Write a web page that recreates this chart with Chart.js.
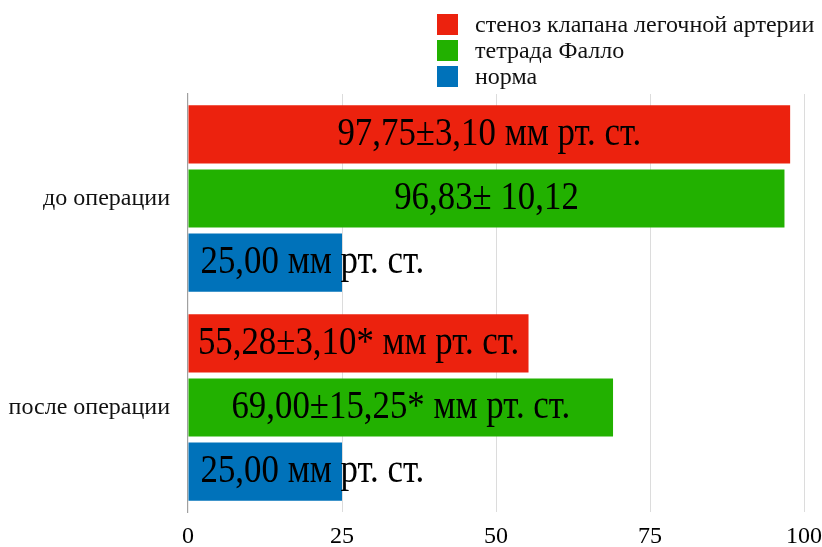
<!DOCTYPE html>
<html>
<head>
<meta charset="utf-8">
<script src="https://cdn.jsdelivr.net/npm/chart.js@4/dist/chart.umd.min.js"></script>
<style>
    html, body { margin: 0; padding: 0; background: #fff; overflow: hidden; }
    #page { width: 822px; height: 547px; overflow: hidden; position: relative; }
    #chartBox { position: absolute; left: 0; top: 0; width: 822px; height: 551px; }
    #legend { position: absolute; left: 437px; top: 11px; font-family: "Liberation Serif", serif;
              font-size: 24px; color: #111; }
    .legend-item { display: flex; align-items: center; height: 26px; }
    .legend-box { width: 21px; height: 21px; margin-right: 17px; }
</style>
</head>
<body>
<div id="page">
    <div id="chartBox"><canvas id="barChart"></canvas></div>
    <div id="legend"></div>
</div>
<script>
// -------------------- Data --------------------
const categories = ["до операции", "после операции"];
const seriesNames = ["стеноз клапана легочной артерии", "тетрада Фалло", "норма"];
const stenosisValues = [97.75, 55.28];
const tetradValues = [96.83, 69.00];
const normValues = [25.00, 25.00];
const stenosisLabels = ["97,75±3,10 мм рт. ст.", "55,28±3,10* мм рт. ст."];
const tetradLabels = ["96,83± 10,12", "69,00±15,25* мм рт. ст."];
const normLabels = ["25,00 мм рт. ст.", "25,00 мм рт. ст."];
const xTicks = [0, 25, 50, 75, 100];

const seriesColors = ["#EC220E", "#22B100", "#0072BA"];
const serif = "'Liberation Serif', 'Times New Roman', serif";

// -------------------- Bar value labels --------------------
// the labels in the picture are narrow and tall, so squeeze them sideways
const squeeze = 0.85;
const valueLabels = {
    id: "valueLabels",
    afterDatasetsDraw(chart) {
        const ctx = chart.ctx;
        ctx.font = "41px " + serif;
        ctx.fillStyle = "#000";
        ctx.textBaseline = "middle";
        chart.data.datasets.forEach((ds, di) => {
            const meta = chart.getDatasetMeta(di);
            meta.data.forEach((bar, i) => {
                const text = ds.valueText[i];
                ctx.save();
                if (ds.labelAlign === "left") {
                    ctx.textAlign = "left";
                    ctx.translate(bar.base + 12, bar.y);
                } else {
                    ctx.textAlign = "center";
                    ctx.translate((bar.base + bar.x) / 2, bar.y);
                }
                ctx.scale(squeeze, 1);
                ctx.fillText(text, 0, 0);
                ctx.restore();
            });
        });
    }
};

// -------------------- Chart --------------------
const ctx = document.getElementById("barChart").getContext("2d");
const barChart = new Chart(ctx, {
    type: "bar",
    data: {
        labels: categories,
        datasets: [
            { label: seriesNames[0], data: stenosisValues, valueText: stenosisLabels, backgroundColor: seriesColors[0] },
            { label: seriesNames[1], data: tetradValues, valueText: tetradLabels, backgroundColor: seriesColors[1] },
            { label: seriesNames[2], data: normValues, valueText: normLabels, backgroundColor: seriesColors[2], labelAlign: "left" }
        ]
    },
    options: {
        indexAxis: "y",
        responsive: true,
        maintainAspectRatio: false,
        animation: false,
        categoryPercentage: 0.92,
        barPercentage: 0.906,
        layout: { padding: { top: 94, right: 18, left: 0, bottom: 0 } },
        plugins: {
            legend: { display: false },
            tooltip: { enabled: false }
        },
        scales: {
            x: {
                min: 0,
                max: 100,
                afterBuildTicks: scale => { scale.ticks = xTicks.map(v => ({ value: v })); },
                afterFit: scale => {
                    scale.height = 39;
                    scale.paddingLeft = 0;
                    scale.paddingRight = 0;
                },
                grid: {
                    drawTicks: false,
                    color: c => c.index === 0 ? "rgba(0,0,0,0)" : "#dcdcdc",
                    lineWidth: 1
                },
                border: { display: false },
                ticks: {
                    padding: 10,
                    color: "#000",
                    font: { family: serif, size: 24 }
                }
            },
            y: {
                afterFit: scale => { scale.width = 188; },
                grid: { display: false, drawTicks: false },
                border: { display: true, color: "#a0a0a0", width: 1.2 },
                ticks: {
                    padding: 18,
                    color: "#111",
                    font: { family: serif, size: 24 }
                }
            }
        }
    },
    plugins: [valueLabels]
});

// -------------------- Legend --------------------
const legendBox = document.getElementById("legend");
barChart.data.datasets.forEach(ds => {
    const item = document.createElement("div");
    item.className = "legend-item";
    item.innerHTML = `<span class="legend-box" style="background:${ds.backgroundColor}"></span><span>${ds.label}</span>`;
    legendBox.appendChild(item);
});
</script>
</body>
</html>
